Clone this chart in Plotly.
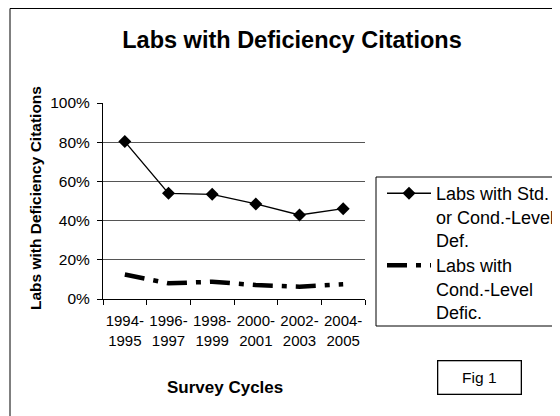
import plotly.graph_objects as go

# Survey cycles and the share of labs cited
ciclos = ['1994-<br>1995', '1996-<br>1997', '1998-<br>1999',
          '2000-<br>2001', '2002-<br>2003', '2004-<br>2005']
std_ou_cond = [0.803, 0.539, 0.534, 0.485, 0.429, 0.461]
cond_nivel = [0.125, 0.08, 0.088, 0.071, 0.063, 0.075]

nome_std = 'Labs with Std.<br>or Cond.-Level<br>Def.'
nome_cond = 'Labs with<br>Cond.-Level<br>Defic.'

fonte = 'Arial, Liberation Sans, sans-serif'

# page has 8px body margin, so figure is 552x408 and plot area 95..357 x 95..291
L, R, T, B = 95, 357, 95, 291
W, H = 552, 408


def px(x):
    return (x - L) / (R - L)


def py(y):
    return (B - y) / (B - T)


fig = go.Figure()
fig.add_scatter(x=ciclos, y=std_ou_cond, name=nome_std, mode='lines+markers',
                line=dict(color='black', width=1.4),
                marker=dict(symbol='diamond', size=10, color='black'))
fig.add_scatter(x=ciclos, y=cond_nivel, name=nome_cond, mode='lines', legend='legend2',
                line=dict(color='black', width=4.5, dash='20px,9px,5px,9px'))

# helper axis only to draw gridlines at 20..80%
fig.add_scatter(x=ciclos, y=cond_nivel, yaxis='y2', showlegend=False,
                mode='lines', line=dict(width=0), hoverinfo='skip')

leg = dict(xanchor='left', yanchor='top', valign='top', bgcolor='rgba(0,0,0,0)',
           borderwidth=0, font=dict(size=18), itemwidth=44)

fig.update_layout(
    width=W, height=H,
    margin=dict(l=L, r=W - R, t=T, b=H - B, autoexpand=False),
    paper_bgcolor='white', plot_bgcolor='white',
    font=dict(family=fonte, color='black'),
    title=dict(text='<b>Labs with Deficiency Citations</b>', x=284 / W, y=1 - 32 / H,
               xanchor='center', yanchor='middle', font=dict(size=23.5)),
    showlegend=True,
    legend=dict(leg, x=px(374), y=py(167)),
    legend2=dict(leg, x=px(374), y=py(239)),
    xaxis=dict(type='category', range=[-0.5, 5.5], tickson='boundaries',
               ticks='outside', ticklen=5, tickcolor='black', showline=True,
               linecolor='black', linewidth=1, showgrid=False, tickangle=0,
               tickfont=dict(size=15), ticklabelstandoff=8, automargin=False),
    yaxis=dict(range=[0, 1], tickvals=[0, 0.2, 0.4, 0.6, 0.8, 1.0], tickformat='.0%',
               ticks='outside', ticklen=5, tickcolor='black', showline=True,
               linecolor='black', linewidth=1, showgrid=False, zeroline=False,
               tickfont=dict(size=15.5), ticklabelstandoff=4, automargin=False),
    yaxis2=dict(overlaying='y', range=[0, 1], tickvals=[0.2, 0.4, 0.6, 0.8],
                showticklabels=False, showgrid=True, gridcolor='#555', gridwidth=1,
                zeroline=False, showline=False, ticks=''),
)

fig.add_annotation(text='<b>Labs with Deficiency Citations</b>', textangle=-90,
                   xref='paper', yref='paper', x=px(27), y=py(190),
                   xanchor='center', yanchor='middle', showarrow=False, font=dict(size=15.5))
fig.add_annotation(text='<b>Survey Cycles</b>', xref='paper', yref='paper',
                   x=px(217), y=py(379),
                   xanchor='center', yanchor='middle', showarrow=False, font=dict(size=17))
fig.add_annotation(text='Fig 1', xref='paper', yref='paper',
                   x=px(471), y=py(369),
                   xanchor='center', yanchor='middle', showarrow=False,
                   width=80, height=30, bordercolor='black', borderwidth=1.3,
                   font=dict(size=15.5))

# legend box
fig.add_shape(type='rect', xref='paper', yref='paper',
              x0=px(368), x1=px(600), y0=py(318), y1=py(169),
              line=dict(color='black', width=1))

# outer frame of the chart (runs past the right and bottom edges)
fig.add_shape(type='rect', xref='paper', yref='paper',
              x0=px(2), x1=px(600), y0=py(430), y1=py(0.5),
              line=dict(color='black', width=1))

fig.write_html('out.html')
